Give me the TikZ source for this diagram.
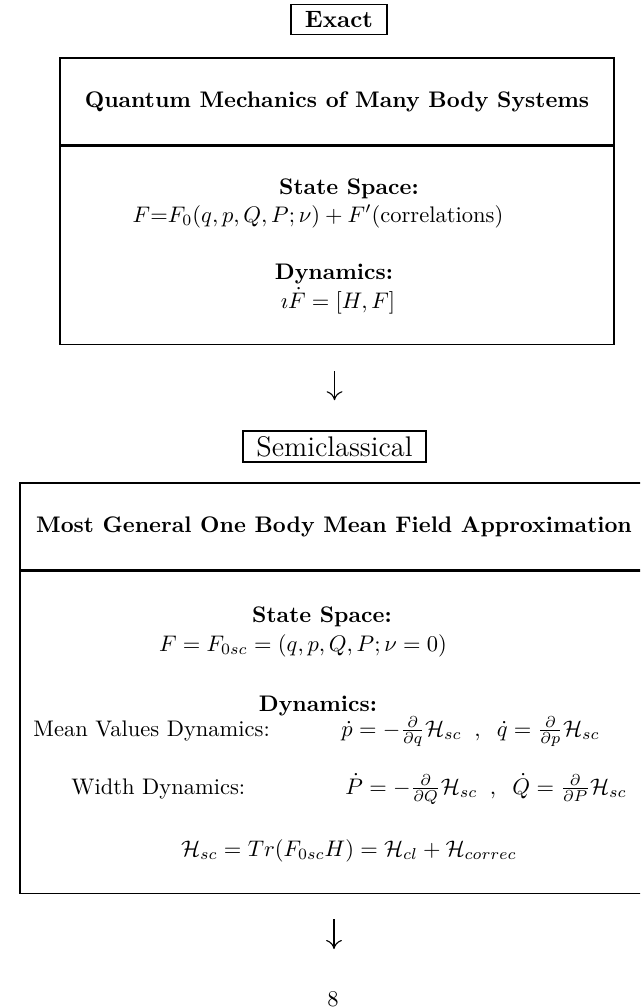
\documentclass[tikz,border=0pt]{standalone}
\usetikzlibrary{arrows.meta}
\newdimen\pxu \pxu=0.444pt
\tikzset{
  panel/.style={draw, line width=0.7pt, inner sep=0pt, rectangle},
  tagbox/.style={draw, line width=0.7pt, inner sep=0pt, rectangle},
  txt/.style={inner sep=0pt, anchor=base},
  ltxt/.style={inner sep=0pt, anchor=base west},
  arr/.style={line width=0.5pt, -{To[length=4pt,width=7pt]}},
}
\begin{document}
\begin{tikzpicture}[x=0.444pt, y=-0.444pt]
\useasboundingbox (0,0) rectangle (640,1008);
\clip (0,0) rectangle (640,1008);

% Exact
\node[tagbox, minimum width=96*\pxu, minimum height=30*\pxu, font=\bfseries\fontsize{10.5}{12}\selectfont] (exact) at (339,19.5) {Exact};

% Top panel
\node[panel, minimum width=554*\pxu, minimum height=87*\pxu, font=\bfseries] (qmhead) at (337,101.5) {Quantum Mechanics of Many Body Systems};
\node[panel, minimum width=554*\pxu, minimum height=198*\pxu, anchor=north] (qmbody) at (qmhead.south) {};
\node[txt] (qmss) at (349,194) {\bfseries State Space:};
\node[txt] (qmstate) at (318,222) {$F{=}F_0(q,p,Q,P;\nu) + F'$(correlations)};
\node[txt] (qmdyn) at (334,279) {\bfseries Dynamics:};
\node[txt] (qmeq) at (338,308) {$\imath\dot F = [H,F]$};

% Semiclassical
\node[tagbox, minimum width=183*\pxu, minimum height=31*\pxu, font=\fontsize{12.6}{15}\selectfont] (semi) at (334.5,446.5) {Semiclassical};

% Bottom panel
\node[panel, minimum width=628*\pxu, minimum height=87*\pxu, font=\bfseries] (mfhead) at (334,526.5) {Most General One Body Mean Field Approximation};
\node[panel, minimum width=628*\pxu, minimum height=322*\pxu, anchor=north] (mfbody) at (mfhead.south) {};
\node[txt] (mfss) at (322,622) {\bfseries State Space:};
\node[txt] (mfstate) at (303,651) {$F = F_{0sc} = (q,p,Q,P;\nu=0)$};
\node[txt] (mfdyn) at (318,711) {\bfseries Dynamics:};
\node[ltxt] (mvlab) at (33,736) {Mean Values Dynamics:};
\node[ltxt] (mveq) at (341,736) {$\dot p = -\frac{\partial}{\partial q}\mathcal{H}_{sc}\;\;,\;\;\dot q = \frac{\partial}{\partial p}\mathcal{H}_{sc}$};
\node[ltxt] (wdlab) at (71,794) {Width Dynamics:};
\node[ltxt] (wdeq) at (345,794) {$\dot P = -\frac{\partial}{\partial Q}\mathcal{H}_{sc}\;\;,\;\;\dot Q = \frac{\partial}{\partial P}\mathcal{H}_{sc}$};
\node[txt] (hsc) at (349,856) {$\mathcal{H}_{sc} = Tr(F_{0sc}H) = \mathcal{H}_{cl} + \mathcal{H}_{correc}$};

% page number
\node[txt] (pg) at (333,1006) {8};

% arrows
\draw[arr, shorten <=26*\pxu, shorten >=30*\pxu] (semi.north |- qmbody.south) -- (semi.north);
\coordinate (a2end) at (334,949);
\draw[arr, shorten <=25*\pxu] (mfbody.south -| a2end) -- (a2end);
\end{tikzpicture}
\end{document}
